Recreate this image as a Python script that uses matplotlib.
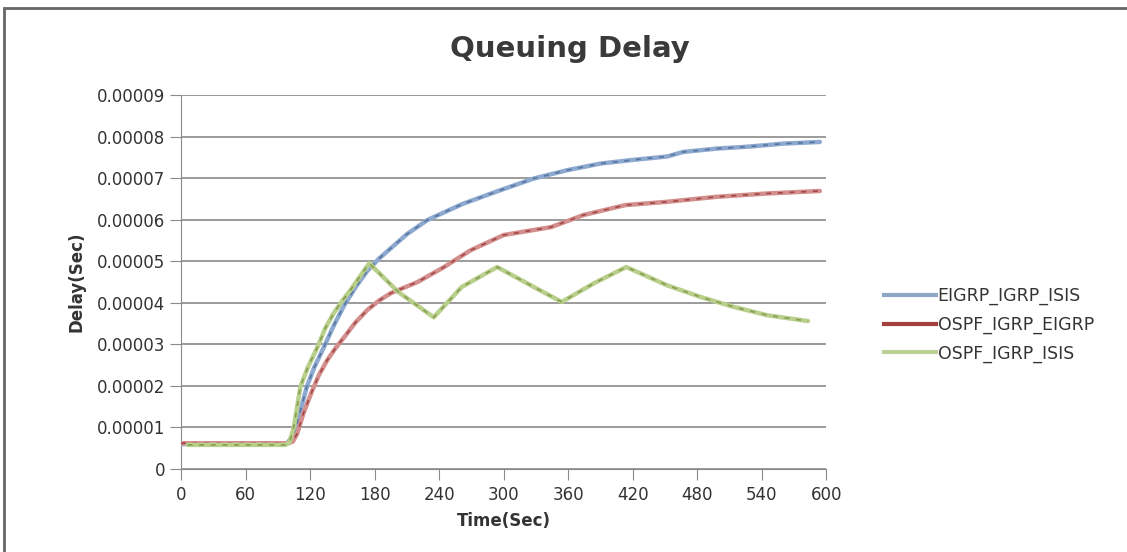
#!/usr/bin/env python3
import matplotlib.pyplot as plt
from matplotlib.patches import Rectangle
import numpy

plt.rcParams['font.family'] = ['DejaVu Sans']

# values (seconds, delay in 1e-5 seconds)
t_eigrp = [0, 30, 60, 90, 99, 106, 111, 117, 124, 133, 142, 152, 163, 173, 184, 195, 210,
           229, 245, 262, 280, 297, 328, 359, 390, 421, 452, 467, 498, 529, 560, 594]
d_eigrp = [0.60, 0.60, 0.60, 0.60, 0.62, 0.90, 1.40, 1.98, 2.45, 2.94, 3.45, 3.95, 4.40, 4.76,
           5.06, 5.31, 5.65, 5.99, 6.18, 6.38, 6.55, 6.71, 6.99, 7.19, 7.35, 7.44, 7.52, 7.63,
           7.71, 7.76, 7.83, 7.87]

t_ospf_eigrp = [0, 30, 60, 90, 100, 104, 108, 114, 121, 128, 136, 144, 152, 162, 173, 184,
                195, 220, 244, 269, 300, 344, 374, 413, 452, 498, 545, 594]
d_ospf_eigrp = [0.62, 0.62, 0.62, 0.62, 0.62, 0.66, 0.85, 1.35, 1.82, 2.25, 2.62, 2.92, 3.18,
                3.52, 3.82, 4.05, 4.23, 4.50, 4.85, 5.26, 5.63, 5.82, 6.11, 6.35, 6.43, 6.55,
                6.63, 6.69]

t_ospf_isis = [6, 30, 60, 90, 97, 101, 105, 111, 118, 127, 134, 142, 150, 158, 166, 175,
               202, 235, 261, 294, 328, 354, 384, 414, 452, 483, 514, 545, 583]
d_ospf_isis = [0.58, 0.58, 0.58, 0.58, 0.58, 0.64, 1.02, 1.98, 2.45, 2.94, 3.38, 3.75, 4.05,
               4.32, 4.62, 4.95, 4.26, 3.65, 4.38, 4.86, 4.38, 4.02, 4.47, 4.86, 4.42, 4.14,
               3.90, 3.70, 3.56]

names = ["EIGRP_IGRP_ISIS", "OSPF_IGRP_EIGRP", "OSPF_IGRP_ISIS"]
colors = ["#8ea9d0", "#d38f8d", "#b9cf8c"]
dark = ["#3f5f8a", "#8e2a28", "#6f8a3a"]
legend_colors = ["#8fa6c6", "#a3403d", "#bcd196"]

fig = plt.figure(figsize=(11.27, 5.52), dpi=100)
ax = fig.add_axes([0.1606, 0.1504, 0.5726, 0.6775])

series = [(t_eigrp, d_eigrp), (t_ospf_eigrp, d_ospf_eigrp), (t_ospf_isis, d_ospf_isis)]
for i, (t, d) in enumerate(series):
    d = numpy.array(d) * 1e-5
    ax.plot(t, d, color=colors[i], lw=3.2, solid_capstyle='round', solid_joinstyle='round',
            zorder=3 + i)
    ax.plot(t, d, color=dark[i], lw=1.2, ls=(0, (3, 4)), alpha=0.7, zorder=3 + i)
    ax.plot([], [], color=legend_colors[i], lw=3, label=names[i])

ax.set_xlim(0, 600)
ax.set_ylim(0, 0.00009)
ax.set_xticks(numpy.arange(0, 601, 60))
yt = numpy.arange(0, 10) * 1e-5
ax.set_yticks(yt)
ax.set_yticklabels(["0"] + [f"0.0000{i}" for i in range(1, 10)])
ax.grid(axis='y', color='#8a8a8a', lw=1.2)
ax.set_axisbelow(True)
for s in ['top', 'right']:
    ax.spines[s].set_visible(False)
ax.spines['left'].set_color('#8a8a8a')
ax.spines['bottom'].set_color('#8a8a8a')
ax.tick_params(axis='both', colors='#8a8a8a', labelcolor='#333333', labelsize=12, length=8)
ax.tick_params(axis='x', pad=4)

ax.set_xlabel("Time(Sec)", fontsize=12, fontweight='bold', color='#333333', labelpad=6)
ax.set_ylabel("Delay(Sec)", fontsize=12, fontweight='bold', color='#333333', labelpad=8)
fig.text(0.506, 0.912, "Queuing Delay", ha='center', va='center', fontsize=21,
         fontweight='bold', color='#3a3a3a')

ax.legend(loc='center left', bbox_to_anchor=(1.065, 0.385), frameon=False, fontsize=12.5,
          handlelength=3.0, handletextpad=0.1, labelspacing=0.6, labelcolor='#333333')

fig.patches.append(Rectangle((4 / 1127, -0.1), 1.2, 1 - 8 / 552 + 0.1, transform=fig.transFigure,
                             fill=False, edgecolor='#666666', lw=2))

plt.savefig("out.png", dpi=100)
